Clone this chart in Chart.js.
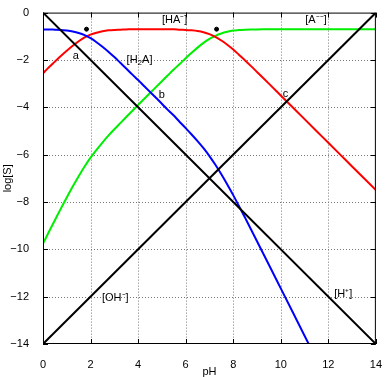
<!DOCTYPE html>
<html>
<head>
<meta charset="utf-8">
<script src="https://cdn.jsdelivr.net/npm/chart.js@4/dist/chart.umd.min.js"></script>
<style>
  html, body { margin: 0; padding: 0; background: #fff; }
  #wrap { width: 388px; height: 377px; position: relative; }
</style>
</head>
<body>
<div id="wrap"><canvas id="c"></canvas></div>
<script>
// pH grid used for the curves
const phValues = [0, 0.25, 0.5, 0.75, 1, 1.25, 1.5, 1.75, 2, 2.25, 2.5, 2.75, 3, 3.25, 3.5, 3.75,
    4, 4.25, 4.5, 4.75, 5, 5.25, 5.5, 5.75, 6, 6.25, 6.5, 6.75, 7, 7.25, 7.5, 7.75,
    8, 8.25, 8.5, 8.75, 9, 9.5, 10, 10.5, 11, 11.5, 12, 12.5, 13, 13.5, 14];

// log concentrations
const logH2A = [-0.71, -0.71, -0.72, -0.73, -0.76, -0.80, -0.86, -0.95, -1.08, -1.25, -1.44, -1.65, -1.88, -2.12, -2.36, -2.61,
    -2.85, -3.10, -3.35, -3.60, -3.85, -4.11, -4.35, -4.62, -4.88, -5.15, -5.43, -5.73, -6.06, -6.43, -6.83, -7.26,
    -7.71, -8.19, -8.67, -9.16, -9.66, -10.65, -11.65, -12.65, -13.65, -14.65, null, null, null, null, null];
const logHA = [-2.56, -2.31, -2.07, -1.83, -1.61, -1.40, -1.21, -1.05, -0.93, -0.85, -0.79, -0.75, -0.73, -0.72, -0.71, -0.70,
    -0.70, -0.70, -0.70, -0.70, -0.70, -0.70, -0.70, -0.72, -0.73, -0.75, -0.78, -0.83, -0.91, -1.03, -1.18, -1.36,
    -1.56, -1.79, -2.02, -2.26, -2.51, -3.00, -3.50, -4.00, -4.50, -5.00, -5.50, -6.00, -6.50, -7.00, -7.50];
const logA = [-9.76, -9.26, -8.77, -8.28, -7.81, -7.35, -6.91, -6.50, -6.13, -5.80, -5.49, -5.20, -4.93, -4.67, -4.41, -4.16,
    -3.90, -3.65, -3.40, -3.15, -2.90, -2.65, -2.40, -2.17, -1.93, -1.70, -1.48, -1.28, -1.11, -0.98, -0.88, -0.81,
    -0.76, -0.74, -0.72, -0.71, -0.71, -0.70, -0.70, -0.70, -0.70, -0.70, -0.70, -0.70, -0.70, -0.70, -0.70];
const linePH = [0, 14];
const logHplus = [0, -14];
const logOH = [-14, 0];

// marked points (pKa positions)
const dotPH = [1.83, 7.3];
const dotLog = [-0.7, -0.7];

const xTicks = [0, 2, 4, 6, 8, 10, 12, 14];
const yTicks = [0, -2, -4, -6, -8, -10, -12, -14];

// text labels: [text, pH, log]
const labels = [
    ['a', 1.38, -1.83],
    ['b', 5.0, -3.49],
    ['c', 10.2, -3.45],
    ['[HA\u207B]', 5.54, -0.33],
    ['[A\u207B\u207B]', 11.48, -0.33],
    ['[OH\u207B]', 3.04, -12.05],
    ['[H\u207A]', 12.63, -11.9]
];

const FONT = '"Liberation Sans", Arial, sans-serif';

function pts(xs, ys) {
    return xs.map((x, i) => ({ x: x, y: ys[i] }));
}

const decor = {
    id: 'decor',
    beforeDatasetsDraw(chart) {
        // dotted grid
        const ctx = chart.ctx;
        const a = chart.chartArea;
        const xs = chart.scales.x, ys = chart.scales.y;
        ctx.save();
        ctx.strokeStyle = '#777';
        ctx.lineWidth = 1;
        ctx.setLineDash([1, 2]);
        ctx.beginPath();
        xTicks.slice(1, -1).forEach(v => {
            const px = Math.round(xs.getPixelForValue(v)) + 0.5;
            ctx.moveTo(px, a.top); ctx.lineTo(px, a.bottom);
        });
        yTicks.slice(1, -1).forEach(v => {
            const py = Math.round(ys.getPixelForValue(v)) + 0.5;
            ctx.moveTo(a.left, py); ctx.lineTo(a.right, py);
        });
        ctx.stroke();
        ctx.restore();
    },
    afterDatasetsDraw(chart) {
        const ctx = chart.ctx;
        const a = chart.chartArea;
        const xs = chart.scales.x, ys = chart.scales.y;
        ctx.save();
        // frame
        ctx.strokeStyle = '#000';
        ctx.lineWidth = 1;
        ctx.strokeRect(a.left + 0.5, a.top + 0.5, a.right - a.left - 1, a.bottom - a.top - 1);
        // inward ticks
        ctx.beginPath();
        xTicks.forEach(v => {
            const px = Math.round(xs.getPixelForValue(v)) + 0.5;
            ctx.moveTo(px, a.bottom); ctx.lineTo(px, a.bottom - 5);
            ctx.moveTo(px, a.top); ctx.lineTo(px, a.top + 5);
        });
        yTicks.forEach(v => {
            const py = Math.round(ys.getPixelForValue(v)) + 0.5;
            ctx.moveTo(a.left, py); ctx.lineTo(a.left + 5, py);
            ctx.moveTo(a.right, py); ctx.lineTo(a.right - 5, py);
        });
        ctx.stroke();

        // labels
        ctx.fillStyle = '#000';
        ctx.font = '11px ' + FONT;
        ctx.textAlign = 'center';
        ctx.textBaseline = 'middle';
        labels.forEach(l => {
            ctx.fillText(l[0], xs.getPixelForValue(l[1]), ys.getPixelForValue(l[2]));
        });

        // [H2A] with subscript
        const bx = xs.getPixelForValue(4.06), by = ys.getPixelForValue(-2.0);
        ctx.font = '11px ' + FONT;
        const w1 = ctx.measureText('[H').width;
        ctx.font = '8px ' + FONT;
        const w2 = ctx.measureText('2').width;
        ctx.font = '11px ' + FONT;
        const w3 = ctx.measureText('A]').width;
        let sx = bx - (w1 + w2 + w3) / 2;
        ctx.textAlign = 'left';
        ctx.fillText('[H', sx, by);
        ctx.font = '8px ' + FONT;
        ctx.fillText('2', sx + w1, by + 3);
        ctx.font = '11px ' + FONT;
        ctx.fillText('A]', sx + w1 + w2, by);
        ctx.restore();
    }
};

const lineOpts = { borderWidth: 2, pointRadius: 0, fill: false, tension: 0.3, cubicInterpolationMode: 'monotone', spanGaps: false };

new Chart(document.getElementById('c'), {
    type: 'line',
    data: {
        datasets: [
            { label: 'H+', data: pts(linePH, logHplus), borderColor: '#000', ...lineOpts, tension: 0 },
            { label: 'OH-', data: pts(linePH, logOH), borderColor: '#000', ...lineOpts, tension: 0 },
            { label: 'H2A', data: pts(phValues, logH2A), borderColor: '#0000ff', ...lineOpts },
            { label: 'HA-', data: pts(phValues, logHA), borderColor: '#ff0000', ...lineOpts },
            { label: 'A--', data: pts(phValues, logA), borderColor: '#00ee00', ...lineOpts },
            { label: 'pKa', type: 'scatter', data: pts(dotPH, dotLog), backgroundColor: '#000', borderColor: '#000', pointRadius: 2 }
        ]
    },
    options: {
        responsive: true,
        maintainAspectRatio: false,
        animation: false,
        layout: { padding: { top: 7, right: 9, left: 1, bottom: 0 } },
        plugins: { legend: { display: false }, tooltip: { enabled: false } },
        scales: {
            x: {
                type: 'linear', min: 0, max: 14,
                afterBuildTicks: s => { s.ticks = xTicks.map(v => ({ value: v })); },
                afterFit: s => { s.height = 33; },
                grid: { display: false },
                border: { display: false },
                ticks: { color: '#000', font: { family: FONT, size: 11 }, padding: 6, maxRotation: 0 },
                title: { display: true, text: 'pH', color: '#000', font: { family: FONT, size: 11 }, padding: { top: 0, bottom: -2 } }
            },
            y: {
                type: 'linear', min: -14, max: 0,
                afterBuildTicks: s => { s.ticks = yTicks.map(v => ({ value: v })); },
                afterFit: s => { s.width = 42; },
                grid: { display: false },
                border: { display: false },
                ticks: { color: '#000', font: { family: FONT, size: 11 }, padding: 6,
                         callback: v => String(v).replace('-', '\u2212') },
                title: { display: true, text: 'log[S]', color: '#000', font: { family: FONT, size: 11 }, padding: { top: 0, bottom: 0 } }
            }
        }
    },
    plugins: [decor]
});
</script>
</body>
</html>
